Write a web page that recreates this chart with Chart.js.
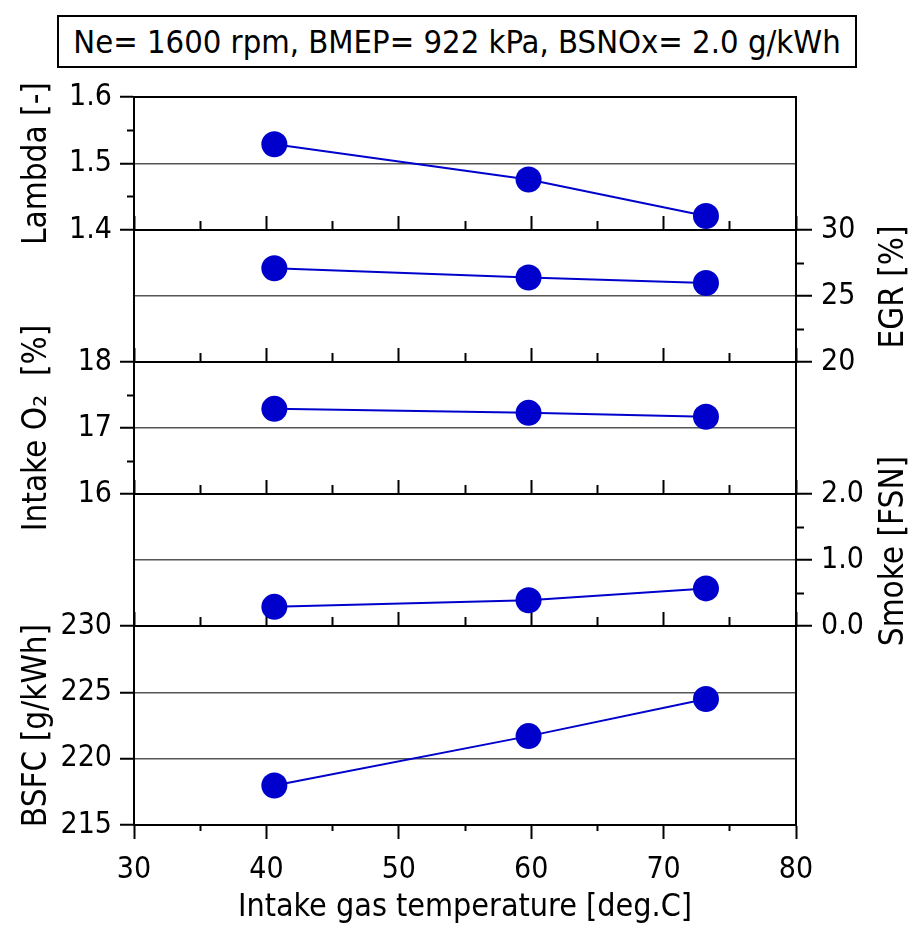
<!DOCTYPE html>
<html>
<head>
<meta charset="utf-8">
<title>Intake gas temperature sweep</title>
<script src="https://cdn.jsdelivr.net/npm/chart.js@4"></script>
<style>
  html, body { margin: 0; padding: 0; background: #fff; }
  #stage { position: relative; width: 920px; height: 929px; overflow: hidden; }
  #stage canvas { position: absolute; left: 0; top: 0; }
  #caption {
    position: absolute; left: 57px; top: 15px; width: 800px; height: 53px;
    box-sizing: border-box; border: 2px solid #000;
    display: flex; align-items: center; justify-content: center;
    font: 32.5px 'DejaVu Sans Condensed', 'DejaVu Sans', sans-serif; color: #000;
    white-space: nowrap; padding-top: 1px;
  }
</style>
</head>
<body>
<div id="stage">
  <div id="caption">Ne= 1600 rpm, BMEP= 922 kPa, BSNOx= 2.0 g/kWh</div>
  <canvas id="cLambda" width="920" height="929"></canvas>
  <canvas id="cEgr" width="920" height="929"></canvas>
  <canvas id="cO2" width="920" height="929"></canvas>
  <canvas id="cSmoke" width="920" height="929"></canvas>
  <canvas id="cBsfc" width="920" height="929"></canvas>
</div>
<script>
// Measured operating points (intake gas temperature, deg.C)
const tempC    = [40.6, 59.8, 73.2];
const lambda   = [1.529, 1.476, 1.421];
const egr      = [27.1, 26.4, 25.98];
const intakeO2 = [17.29, 17.23, 17.17];
const smoke    = [0.29, 0.39, 0.57];
const bsfc     = [217.98, 221.7, 224.5];

// Axis tick values
const tempTicks   = [30, 40, 50, 60, 70, 80];
const lambdaTicks = [1.4, 1.5, 1.6];
const egrTicks    = [20, 25, 30];
const o2Ticks     = [16, 17, 18];
const smokeTicks  = [0.0, 1.0, 2.0];
const bsfcTicks   = [215, 220, 225, 230];

const FAMILY = "'DejaVu Sans Condensed', 'DejaVu Sans', sans-serif";
const BLUE = '#0000cc';
const INK = '#000';
const GRID = '#555';
const H = 929;
const LEFT_BAND = 134;   // width reserved for left axis + title
const RIGHT_BAND = 124;  // width reserved for right axis + title
const TICK_FONT = { family: FAMILY, size: 30 };
const TITLE_FONT = { family: FAMILY, size: 33 };
const XTITLE_FONT = { family: FAMILY, size: 32 };

const midpoints = a => a.slice(1).map((v, i) => (v + a[i]) / 2);
const tickList = vals => vals.map(v => ({ value: v }));

// Stacked panels sharing the temperature axis
const panels = [
  { canvas: 'cLambda', top: 97,  bottom: 230, side: 'left',  label: 'Lambda [-]',                  values: lambda,   ticks: lambdaTicks, minor: true,  digits: 1 },
  { canvas: 'cEgr',    top: 230, bottom: 362, side: 'right', label: 'EGR [%]',                     values: egr,      ticks: egrTicks,    minor: true,  digits: 0 },
  { canvas: 'cO2',     top: 362, bottom: 494, side: 'left',  label: 'Intake O\u2082\u00a0\u00a0[%]', values: intakeO2, ticks: o2Ticks,     minor: true,  digits: 0 },
  { canvas: 'cSmoke',  top: 494, bottom: 626, side: 'right', label: 'Smoke [FSN]',                 values: smoke,    ticks: smokeTicks,  minor: true,  digits: 1 },
  { canvas: 'cBsfc',   top: 626, bottom: 825, side: 'left',  label: 'BSFC [g/kWh]',                values: bsfc,     ticks: bsfcTicks,   minor: false, digits: 0, base: true }
];

// Box around each panel's plot area
const panelFrame = {
  id: 'panelFrame',
  beforeDatasetsDraw(chart) {
    const { ctx, chartArea: a } = chart;
    ctx.save();
    ctx.strokeStyle = INK;
    ctx.lineWidth = 2;
    ctx.strokeRect(a.left, a.top, a.right - a.left, a.bottom - a.top);
    ctx.restore();
  }
};

// Right-hand axis titles, read bottom-to-top like the left ones
const sideTitle = {
  id: 'sideTitle',
  afterDraw(chart, args, opts) {
    if (!opts || !opts.text) return;
    const { ctx, chartArea: a } = chart;
    ctx.save();
    ctx.font = opts.size + 'px ' + FAMILY;
    ctx.fillStyle = INK;
    ctx.textAlign = 'center';
    ctx.textBaseline = 'middle';
    ctx.translate(a.right + opts.offset, (a.top + a.bottom) / 2 + opts.shift);
    ctx.rotate(-Math.PI / 2);
    ctx.fillText(opts.text, 0, 0);
    ctx.restore();
  }
};

function makeChart(p) {
  const lo = p.ticks[0];
  const hi = p.ticks[p.ticks.length - 1];
  const isLeft = p.side === 'left';

  const scales = {
    x: {
      type: 'linear', position: 'bottom', min: 30, max: 80, weight: 1,
      afterBuildTicks: s => { s.ticks = tickList(tempTicks); },
      ticks: { display: !!p.base, color: INK, font: TICK_FONT, padding: 13,
               maxRotation: 0, autoSkip: false, callback: v => String(v) },
      grid: { drawOnChartArea: false, drawTicks: true, tickLength: p.base ? 14 : -14,
              tickColor: INK, tickWidth: 2, color: INK },
      border: { display: true, color: INK, width: 2 },
      title: p.base
        ? { display: true, text: 'Intake gas temperature [deg.C]', color: INK,
            font: XTITLE_FONT, padding: { top: 0, bottom: 2 } }
        : { display: false },
      afterFit: s => { s.height = p.base ? H - p.bottom : 0; }
    },
    xMinor: {
      type: 'linear', position: 'bottom', min: 30, max: 80, weight: 0,
      afterBuildTicks: s => { s.ticks = tickList(midpoints(tempTicks)); },
      ticks: { display: false },
      grid: { drawOnChartArea: false, drawTicks: true, tickLength: p.base ? 6 : -9,
              tickColor: INK, tickWidth: 2, color: INK },
      border: { display: true, color: INK, width: 2 },
      afterFit: s => { s.height = 0; }
    },
    y: {
      type: 'linear', position: p.side, min: lo, max: hi, weight: 1,
      afterBuildTicks: s => { s.ticks = tickList(p.ticks); },
      ticks: { color: INK, font: TICK_FONT, padding: isLeft ? 8 : 9,
               callback: v => Number(v).toFixed(p.digits) },
      grid: {
        drawOnChartArea: true,
        color: c => (c.tick && c.tick.value > lo + 1e-9 && c.tick.value < hi - 1e-9) ? GRID : 'rgba(0,0,0,0)',
        lineWidth: 1.5,
        drawTicks: true, tickLength: isLeft ? 14 : 16, tickColor: INK, tickWidth: 2
      },
      border: { display: true, color: INK, width: 2 },
      title: isLeft
        ? { display: true, text: p.label, color: INK, font: TITLE_FONT,
            padding: { top: 18, bottom: 0 } }
        : { display: false },
      afterFit: s => { s.width = isLeft ? LEFT_BAND : RIGHT_BAND; }
    }
  };

  if (p.minor) {
    scales.yMinor = {
      type: 'linear', position: p.side, min: lo, max: hi, weight: 0,
      afterBuildTicks: s => { s.ticks = tickList(midpoints(p.ticks)); },
      ticks: { display: false },
      grid: { drawOnChartArea: false, drawTicks: true, tickLength: isLeft ? 7 : 8,
              tickColor: INK, tickWidth: 2, color: INK },
      border: { display: true, color: INK, width: 2 },
      afterFit: s => { s.width = 0; }
    };
  }

  const plugins = [panelFrame];
  const pluginOpts = { legend: { display: false }, tooltip: { enabled: false } };
  if (!isLeft) {
    plugins.push(sideTitle);
    pluginOpts.sideTitle = { text: p.label, size: TITLE_FONT.size, offset: 98, shift: -9 };
  }

  return new Chart(document.getElementById(p.canvas), {
    type: 'line',
    data: {
      datasets: [{
        data: tempC.map((t, i) => ({ x: t, y: p.values[i] })),
        xAxisID: 'x', yAxisID: 'y',
        borderColor: BLUE, backgroundColor: BLUE, borderWidth: 2,
        pointRadius: 13, pointHoverRadius: 13, pointBackgroundColor: BLUE,
        pointBorderWidth: 0, tension: 0, clip: false
      }]
    },
    options: {
      responsive: false, animation: false, devicePixelRatio: 1, events: [],
      layout: {
        padding: {
          top: p.top,
          bottom: p.base ? 0 : H - p.bottom,
          left: isLeft ? 0 : LEFT_BAND,
          right: isLeft ? RIGHT_BAND : 0
        }
      },
      scales,
      plugins: pluginOpts
    },
    plugins
  });
}

panels.forEach(makeChart);
</script>
</body>
</html>
